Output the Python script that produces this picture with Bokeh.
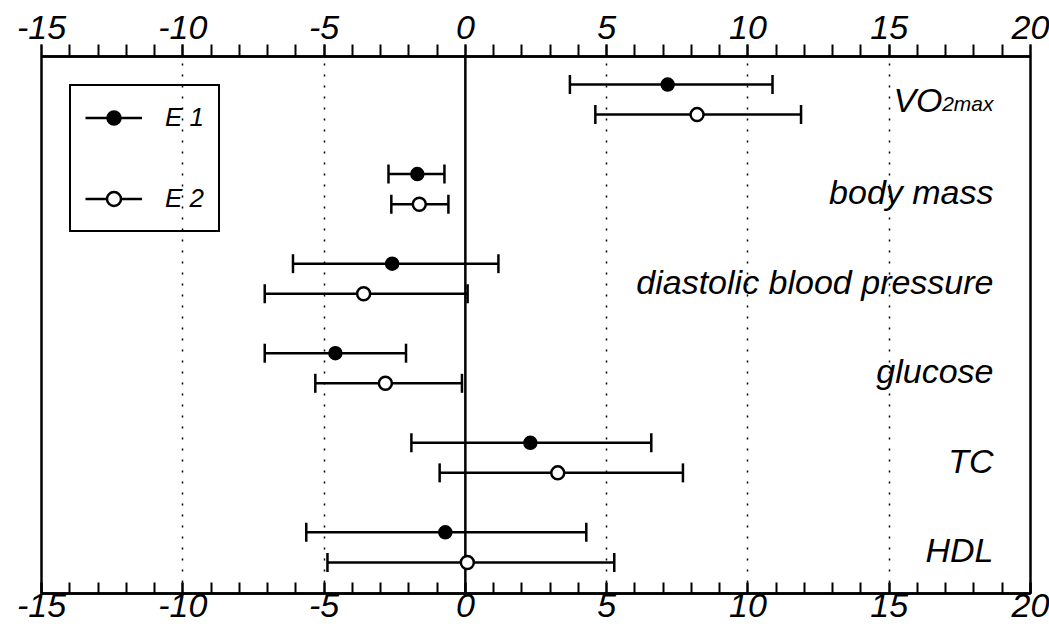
from bokeh.plotting import figure
from bokeh.models import (Range1d, LinearAxis, FixedTicker, Span, Whisker, TeeHead,
                          ColumnDataSource, Legend, LegendItem)
from bokeh.core.properties import value
from bokeh.embed import file_html
from bokeh.resources import INLINE

# ---------------- data ----------------
categories = ["VO2max", "body mass", "diastolic blood pressure", "glucose", "TC", "HDL"]
e1_mean = [7.16, -1.70, -2.59, -4.60, 2.30, -0.71]
e1_lo   = [3.70, -2.72, -6.10, -7.10, -1.91, -5.63]
e1_hi   = [10.87, -0.74, 1.17, -2.10, 6.58, 4.28]
e2_mean = [8.20, -1.63, -3.60, -2.83, 3.27, 0.07]
e2_lo   = [4.60, -2.62, -7.10, -5.31, -0.91, -4.88]
e2_hi   = [11.88, -0.60, 0.08, -0.12, 7.70, 5.27]
series_names = ["E 1", "E 2"]
major_ticks = [-15, -10, -5, 0, 5, 10, 15, 20]
tick_labels = ["-15", "-10", "-5", "0", "5", "10", "15", "20"]
minor_ticks = list(range(-15, 21))
grid_ticks = [-10, -5, 5, 10, 15]

# ---------------- layout helpers ----------------
n = len(categories)
centers = [n - 1 - i for i in range(n)]       # top category first
pair_off = 0.168

src1 = ColumnDataSource(dict(y=[c + pair_off for c in centers], m=e1_mean, lo=e1_lo, hi=e1_hi))
src2 = ColumnDataSource(dict(y=[c - pair_off for c in centers], m=e2_mean, lo=e2_lo, hi=e2_hi))

FONT = "Liberation Sans"

p = figure(width=1049, height=630,
           x_range=Range1d(-15, 20), y_range=Range1d(-0.515, 5.481),
           output_backend="svg", toolbar_location=None, y_axis_location=None,
           min_border_left=41, min_border_right=19, min_border_top=56, min_border_bottom=37)
p.background_fill_color = "white"
p.border_fill_color = "white"
p.outline_line_color = "black"
p.outline_line_width = 2.5

def style_axis(ax, inside):
    ax.ticker = FixedTicker(ticks=major_ticks, minor_ticks=minor_ticks)
    ax.major_label_overrides = {t: s for t, s in zip(major_ticks, tick_labels)}
    ax.axis_line_width = 2.5
    ax.axis_line_color = "black"
    ax.major_tick_line_width = 2
    ax.minor_tick_line_width = 2
    ax.major_tick_line_color = "black"
    ax.minor_tick_line_color = "black"
    if inside:
        ax.major_tick_in = 11; ax.major_tick_out = 0
        ax.minor_tick_in = 11; ax.minor_tick_out = 0
        ax.major_label_standoff = 0
    else:
        ax.major_tick_in = 0; ax.major_tick_out = 12
        ax.minor_tick_in = 0; ax.minor_tick_out = 12
        ax.major_label_standoff = 6
    ax.major_label_text_font = FONT
    ax.major_label_text_font_style = "italic"
    ax.major_label_text_font_size = "34px"
    ax.major_label_text_color = "black"

style_axis(p.xaxis[0], inside=True)
top_axis = LinearAxis()
style_axis(top_axis, inside=False)
p.add_layout(top_axis, "above")

p.xgrid.ticker = FixedTicker(ticks=grid_ticks)
p.xgrid.grid_line_color = "black"
p.xgrid.grid_line_dash = "2 9"
p.xgrid.grid_line_width = 1.5
p.ygrid.visible = False

zero = Span(location=0, dimension="height", line_color="black", line_width=2.5, level="underlay")
p.add_layout(zero)

# error bars
seg1 = p.segment(x0="lo", y0="y", x1="hi", y1="y", source=src1, line_color="black", line_width=2.5)
seg2 = p.segment(x0="lo", y0="y", x1="hi", y1="y", source=src2, line_color="black", line_width=2.5)
for s in (src1, src2):
    w = Whisker(source=s, base="y", lower="lo", upper="hi", dimension="width", line_alpha=0,
                upper_head=TeeHead(size=19, line_width=2.5, line_color="black"),
                lower_head=TeeHead(size=19, line_width=2.5, line_color="black"))
    p.add_layout(w)

sc1 = p.scatter(x="m", y="y", source=src1, size=13, marker="circle",
                fill_color="black", line_color="black", line_width=1.5)
sc2 = p.scatter(x="m", y="y", source=src2, size=13, marker="circle",
                fill_color="white", line_color="black", line_width=2.5)

# category labels
x_right = p.x_range.end
lab_src = ColumnDataSource(dict(x=[x_right] * (n - 1), y=centers[1:], t=categories[1:]))
p.text(x="x", y="y", text="t", source=lab_src, x_offset=-37, y_offset=3,
       text_align="right", text_baseline="alphabetic",
       text_font=value(FONT), text_font_style="italic", text_font_size="34px", text_color="black")
# VO2max with subscript
vo_main, vo_sub = categories[0][:2], categories[0][2:]
p.text(x=[x_right], y=[centers[0]], text=[vo_sub], x_offset=-37, y_offset=4,
       text_align="right", text_baseline="alphabetic",
       text_font=value(FONT), text_font_style="italic", text_font_size="21px", text_color="black")
p.text(x=[x_right], y=[centers[0]], text=[vo_main], x_offset=-88, y_offset=0,
       text_align="right", text_baseline="alphabetic",
       text_font=value(FONT), text_font_style="italic", text_font_size="34px", text_color="black")

legend = Legend(items=[LegendItem(label=series_names[0], renderers=[seg1, sc1]),
                       LegendItem(label=series_names[1], renderers=[seg2, sc2])],
                location="top_left", margin=28, padding=14, spacing=46,
                glyph_width=57, glyph_height=35, label_standoff=23,
                label_text_font=FONT, label_text_font_style="italic", label_text_font_size="26px",
                label_text_color="black",
                border_line_color="black", border_line_alpha=1.0, border_line_width=2,
                background_fill_alpha=0)
p.add_layout(legend)

open("out.html", "w").write(file_html(p, INLINE))
